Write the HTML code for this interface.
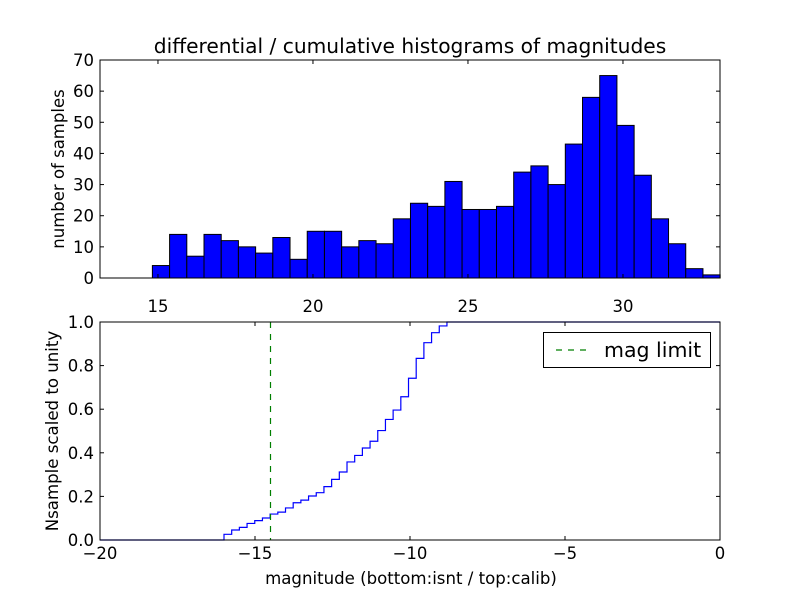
<!DOCTYPE html>
<html><head><meta charset="utf-8"><style>
body{margin:0;background:#fff}
svg{font-family:"DejaVu Sans","Liberation Sans",sans-serif}
</style></head><body>
<svg id="c" width="800" height="600" viewBox="0 0 800 600">
<rect width="800" height="600" fill="#fff"/>
<g id="top"></g>
<g id="bot"></g>
</svg>
<script>
const histCounts=[4,14,7,14,12,10,8,13,6,15,15,10,12,11,19,24,23,31,22,22,23,34,36,30,43,58,65,49,33,19,11,3,1];
const histStart=14.82, histBinWidth=0.555;
const topXTicks=[15,20,25,30];
const topYTicks=[0,10,20,30,40,50,60,70];
const cumLevels=[0.026,0.046,0.058,0.076,0.089,0.101,0.119,0.128,0.147,0.171,0.183,0.202,0.217,0.245,0.278,0.312,0.358,0.388,0.422,0.453,0.502,0.553,0.596,0.657,0.742,0.833,0.905,0.951,0.982,1.0];
const cumStart=-16.0, cumBinWidth=0.248;
const magLimit=-14.5;
const botXTicks=[-20,-15,-10,-5,0];
const botYTicks=[0,0.2,0.4,0.6,0.8,1.0];

const NS="http://www.w3.org/2000/svg";
function mk(parent,tag,attrs,text){const e=document.createElementNS(NS,tag);for(const k in attrs)e.setAttribute(k,attrs[k]);if(text!==undefined)e.textContent=text;parent.appendChild(e);return e;}
const L=100,R=720;
const T=document.getElementById('top');
const tx0=13.13,tx1=33.13,tT=60,tB=278;
const txs=v=>L+(v-tx0)/(tx1-tx0)*(R-L);
const tys=v=>tB-v/70*(tB-tT);
histCounts.forEach((c,i)=>{
  const x0=txs(histStart+i*histBinWidth),x1=txs(histStart+(i+1)*histBinWidth);
  const r=mk(T,'rect',{x:x0,y:tys(c),width:x1-x0,height:tys(0)-tys(c),fill:'#0000ff',stroke:'#000','stroke-width':1});
  
  
});
topXTicks.forEach(v=>{
  const x=txs(v);
  mk(T,'line',{x1:x,x2:x,y1:tT,y2:tT+4,stroke:'#000'});
  mk(T,'line',{x1:x,x2:x,y1:tB,y2:tB-4,stroke:'#000'});
  const t=mk(T,'text',{x:x,y:312,'font-size':16.5,'text-anchor':'middle'},String(v));
  
  
});
topYTicks.forEach(v=>{
  const y=tys(v);
  mk(T,'line',{x1:L,x2:L+4,y1:y,y2:y,stroke:'#000'});
  mk(T,'line',{x1:R,x2:R-4,y1:y,y2:y,stroke:'#000'});
  const t=mk(T,'text',{x:L-6,y:y+6,'font-size':16.5,'text-anchor':'end'},String(v));
  
  
});
mk(T,'rect',{x:L,y:tT,width:R-L,height:tB-tT,fill:'none',stroke:'#000','stroke-width':1});
mk(T,'text',{x:410,y:53,'font-size':20.2,'text-anchor':'middle',},'differential / cumulative histograms of magnitudes');
mk(T,'text',{x:0,y:0,'font-size':16.5,'text-anchor':'middle',transform:'translate(64,169) rotate(-90)',},'number of samples');

const B=document.getElementById('bot');
const bT=322,bB=540;
const bxs=v=>L+(v+20)/20*(R-L);
const bys=v=>bB-v*(bB-bT);
let d='M'+L+','+bys(0)+' H'+bxs(cumStart);
cumLevels.forEach((v,i)=>{
  d+=' V'+bys(v)+' H'+bxs(cumStart+(i+1)*cumBinWidth);
});
d+=' H'+R;
mk(B,'path',{d:d,fill:'none',stroke:'#0000ff','stroke-width':1.2,});
const ml=mk(B,'line',{x1:bxs(magLimit),x2:bxs(magLimit),y1:bT,y2:bB,stroke:'#007f00','stroke-width':1.2,'stroke-dasharray':'6,6'});


botXTicks.forEach(v=>{
  const x=bxs(v);
  mk(B,'line',{x1:x,x2:x,y1:bB,y2:bB-4,stroke:'#000'});
  mk(B,'line',{x1:x,x2:x,y1:bT,y2:bT+4,stroke:'#000'});
  const t=mk(B,'text',{x:x,y:559,'font-size':16.5,'text-anchor':'middle'},v<0?'\u2212'+Math.abs(v):String(v));
  
  
});
botYTicks.forEach(v=>{
  const y=bys(v);
  mk(B,'line',{x1:L,x2:L+4,y1:y,y2:y,stroke:'#000'});
  mk(B,'line',{x1:R,x2:R-4,y1:y,y2:y,stroke:'#000'});
  const t=mk(B,'text',{x:L-6,y:y+6,'font-size':16.5,'text-anchor':'end'},v.toFixed(1));
  
  
});
mk(B,'rect',{x:L,y:bT,width:R-L,height:bB-bT,fill:'none',stroke:'#000','stroke-width':1});
mk(B,'text',{x:411,y:584,'font-size':16.6,'text-anchor':'middle',},'magnitude (bottom:isnt / top:calib)');
mk(B,'text',{x:0,y:0,'font-size':16.6,'text-anchor':'middle',transform:'translate(58,431) rotate(-90)',},'Nsample scaled to unity');
const lg=mk(B,'g',{});
mk(lg,'rect',{x:543.5,y:332.5,width:167,height:35,fill:'#fff',stroke:'#000'});
mk(lg,'line',{x1:556,x2:588,y1:350,y2:350,stroke:'#007f00','stroke-width':1.2,'stroke-dasharray':'6,6'});
mk(lg,'text',{x:604,y:357,'font-size':20.5},'mag limit');
</script>
</body></html>
